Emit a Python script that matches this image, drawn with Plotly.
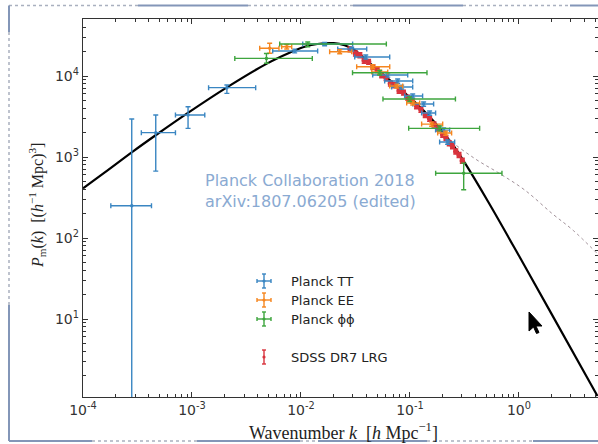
import plotly.graph_objects as go

# ---------------- data ----------------
# Linear-theory matter power spectrum P_m(k)
k_lin = [1.0e-4, 1.585e-4, 2.88e-4, 4.71e-4, 9.18e-4, 2.09e-3, 4.82e-3, 7.94e-3,
         0.01042, 0.01413, 0.01995, 0.02512, 0.03112, 0.04266, 0.06516, 0.1067,
         0.1626, 0.2477, 0.3177, 0.52, 1.0, 1.995, 5.25]
p_lin = [411, 646, 1175, 1884, 3508, 7244, 14130, 19500,
         22650, 24830, 25410, 23990, 20890, 14450, 8910, 5010,
         2820, 1413, 851, 282, 60.3, 11.5, 1.12]

# Nonlinear spectrum (dotted)
k_nl = [0.1, 0.1585, 0.2168, 0.3917, 0.665, 1.127, 2.037, 3.105, 5.164]
p_nl = [5200, 2950, 1760, 960, 625, 392, 198, 126, 65.3]

# Planck TT
tt_k = [2.8e-4, 4.65e-4, 9.2e-4, 2.09e-3, 0.00875, 0.01648, 0.02917, 0.03926,
        0.06252, 0.0771, 0.0839, 0.1059, 0.1334, 0.1514, 0.2037, 0.2213]
tt_k_lo = [1.8e-4, 3.43e-4, 7.05e-4, 1.42e-3, 0.0055, 0.01038, 0.02173, 0.03112,
           0.0455, 0.0586, 0.0679, 0.0893, 0.1059, 0.1279, 0.1718, 0.1871]
tt_k_hi = [4.25e-4, 7.05e-4, 1.31e-3, 3.84e-3, 0.01422, 0.02978, 0.04009, 0.06516,
           0.0953, 0.1059, 0.1059, 0.1306, 0.1648, 0.1718, 0.2312, 0.2570]
tt_p = [250, 2000, 3300, 7180, 20400, 24800, 21540, 17180,
        10280, 8670, 7310, 5660, 4510, 3490, 2150, 1530]
tt_p_lo = [0.01, 670, 2260, 6110, 19300, 23600, 20400, 16200,
           9700, 8150, 6900, 5320, 4240, 3280, 2020, 1440]
tt_p_hi = [2950, 3300, 4180, 7740, 21500, 26000, 22700, 18200,
           10900, 9200, 7720, 6000, 4780, 3700, 2280, 1620]

# Planck EE
ee_k = [0.00516, 0.00740, 0.02265, 0.0455, 0.0527, 0.0755, 0.1059, 0.158, 0.2123]
ee_k_lo = [0.00418, 0.00665, 0.01832, 0.03243, 0.0446, 0.0652, 0.0933, 0.1279, 0.1795]
ee_k_hi = [0.00628, 0.00822, 0.02917, 0.0652, 0.0625, 0.0857, 0.1227, 0.1995, 0.2410]
ee_p = [21980, 23010, 19950, 13030, 11200, 7530, 4640, 2550, 1977]
ee_p_lo = [19070, 21600, 18800, 12300, 10600, 7100, 4380, 2400, 1860]
ee_p_hi = [25340, 24500, 21100, 13800, 11800, 7950, 4900, 2700, 2090]

# Planck lensing (phi-phi)
pp_k = [0.00482, 0.01153, 0.0527, 0.0993, 0.187, 0.311]
pp_k_lo = [0.00247, 0.00638, 0.0297, 0.0565, 0.0973, 0.172]
pp_k_hi = [0.0127, 0.0607, 0.1432, 0.2612, 0.4355, 0.698]
pp_p = [16500, 24840, 10990, 5200, 2260, 630]
pp_p_lo = [14400, 23000, 10300, 4850, 2100, 395]
pp_p_hi = [19000, 26300, 11700, 5550, 2420, 840]

# SDSS DR7 LRG
sdss_k = [0.0282, 0.0316, 0.0347, 0.0380, 0.0417, 0.0457, 0.0501, 0.0550, 0.0603,
          0.0661, 0.0724, 0.0794, 0.0871, 0.0955, 0.1047, 0.1148, 0.1259, 0.1380,
          0.1514, 0.1660, 0.1820, 0.1995, 0.2138, 0.2291, 0.2455, 0.2630, 0.2818, 0.3020]
sdss_p = [21400, 19000, 18100, 15500, 15000, 12900, 11900, 10200, 9500,
          8100, 7700, 6600, 6250, 5400, 4950, 4250, 3850, 3300,
          2980, 2520, 2260, 1880, 1720, 1480, 1360, 1170, 1060, 900]
sdss_err = [1500, 1330, 1270, 1080, 1050, 900, 830, 710, 670,
            570, 540, 460, 440, 380, 350, 300, 270, 230,
            210, 180, 160, 130, 120, 105, 95, 82, 75, 63]

# Axis ticks
x_ticks = [1e-4, 1e-3, 1e-2, 1e-1, 1.0]
x_tick_text = ["10<sup>-4</sup>", "10<sup>-3</sup>", "10<sup>-2</sup>",
               "10<sup>-1</sup>", "10<sup>0</sup>"]
y_ticks = [1e1, 1e2, 1e3, 1e4]
y_tick_text = ["10<sup>1</sup>", "10<sup>2</sup>", "10<sup>3</sup>", "10<sup>4</sup>"]

legend_labels = ["Planck TT", "Planck EE", "Planck \u03d5\u03d5", "SDSS DR7 LRG"]
credit_lines = ["Planck Collaboration 2018", "arXiv:1807.06205 (edited)"]

BLUE, ORANGE, GREEN, RED = "#3a86c2", "#f5861f", "#3ea53e", "#d8333d"

# ---------------- geometry helpers ----------------
W, H = 598, 444
ML, MR, MT, MB = 83, 0, 19, 47
PW, PH = W - ML - MR, H - MT - MB


def px(x):
    return (x - ML) / PW


def py(y):
    return (MT + PH - y) / PH


def bounds(c, lo, hi):
    return [h - v for v, h in zip(c, hi)], [v - l for v, l in zip(c, lo)]


fig = go.Figure()

fig.add_trace(go.Scatter(x=k_nl, y=p_nl, mode="lines", line_shape="spline",
                         line=dict(color="#a09098", width=1, dash="dot"),
                         showlegend=False, hoverinfo="skip"))
fig.add_trace(go.Scatter(x=k_lin, y=p_lin, mode="lines", line_shape="spline",
                         line=dict(color="black", width=2.2),
                         showlegend=False, hoverinfo="skip"))

fig.add_trace(go.Scatter(
    x=sdss_k, y=sdss_p, mode="markers",
    marker=dict(color=RED, size=5.5),
    error_y=dict(type="data", array=sdss_err, color=RED, thickness=1.5, width=2.5),
    showlegend=False))


def planck(k, klo, khi, p, plo, phi, color):
    kp, km = bounds(k, klo, khi)
    pp, pm = bounds(p, plo, phi)
    fig.add_trace(go.Scatter(
        x=k, y=p, mode="markers",
        marker=dict(color=color, size=3.5),
        error_x=dict(type="data", symmetric=False, array=kp, arrayminus=km,
                     color=color, thickness=1.4, width=2.5),
        error_y=dict(type="data", symmetric=False, array=pp, arrayminus=pm,
                     color=color, thickness=1.4, width=2.5),
        showlegend=False))


planck(tt_k, tt_k_lo, tt_k_hi, tt_p, tt_p_lo, tt_p_hi, BLUE)
planck(ee_k, ee_k_lo, ee_k_hi, ee_p, ee_p_lo, ee_p_hi, ORANGE)
planck(pp_k, pp_k_lo, pp_k_hi, pp_p, pp_p_lo, pp_p_hi, GREEN)

shapes = []
annotations = []

# ---- legend keys drawn as small error-bar glyphs ----
key_x = 264
key_rows = [281, 300, 319, 357]
key_colors = [BLUE, ORANGE, GREEN, RED]


def seg(x0, y0, x1, y1, color, width=1.4, dash=None):
    ln = dict(color=color, width=width)
    if dash:
        ln["dash"] = dash
    shapes.append(dict(type="line", xref="paper", yref="paper",
                       x0=px(x0), y0=py(y0), x1=px(x1), y1=py(y1), line=ln))


for i, (yy, col, lab) in enumerate(zip(key_rows, key_colors, legend_labels)):
    if i < 3:
        seg(key_x - 7, yy, key_x + 7, yy, col)
        seg(key_x - 7, yy - 2, key_x - 7, yy + 2, col)
        seg(key_x + 7, yy - 2, key_x + 7, yy + 2, col)
    seg(key_x, yy - 7, key_x, yy + 7, col)
    seg(key_x - 2, yy - 7, key_x + 2, yy - 7, col)
    seg(key_x - 2, yy + 7, key_x + 2, yy + 7, col)
    shapes.append(dict(type="circle", xref="paper", yref="paper",
                       x0=px(key_x - 1.6), x1=px(key_x + 1.6),
                       y0=py(yy + 1.6), y1=py(yy - 1.6),
                       fillcolor=col, line=dict(width=0)))
    annotations.append(dict(xref="paper", yref="paper", x=px(289), y=py(yy),
                            xanchor="left", yanchor="middle", showarrow=False,
                            text=lab, font=dict(family="DejaVu Sans", size=13,
                                                color="#222")))

# ---- credit text ----
for yy, t in zip([180, 201], credit_lines):
    annotations.append(dict(xref="paper", yref="paper", x=px(310), y=py(yy),
                            xanchor="center", yanchor="middle", showarrow=False,
                            text=t, font=dict(family="DejaVu Sans", size=16,
                                              color="#8aaad2")))

# ---- axis titles ----
annotations.append(dict(
    xref="paper", yref="paper", x=px(343), y=py(431), xanchor="center",
    yanchor="middle", showarrow=False,
    text="Wavenumber <i>k</i>  [<i>h</i> Mpc<sup>\u22121</sup>]",
    font=dict(family="Liberation Serif", size=18, color="#222")))
annotations.append(dict(
    xref="paper", yref="paper", x=px(37), y=py(206), xanchor="center",
    yanchor="middle", showarrow=False, textangle=-90,
    text="<i>P</i><sub>m</sub>(<i>k</i>)  [(<i>h</i><sup>\u22121</sup> Mpc)<sup>3</sup>]",
    font=dict(family="Liberation Serif", size=16, color="#222")))

# ---- slide frame ----
FR = "#8396b8"
DOT = "#a9b0bf"
for a, b, d in [(9, 138, True), (138, 248, False), (248, 353, True),
                (353, 463, False), (463, 570, True), (570, 600, False)]:
    seg(a, 5.5, b, 5.5, DOT if d else FR, width=2 if not d else 1.5,
        dash="dot" if d else None)
for a, b, d in [(5.5, 32, False), (32, 305, True), (305, 441, False)]:
    seg(9, a, 9, b, DOT if d else FR, width=2 if not d else 1.5,
        dash="dot" if d else None)
for a, b, d in [(9, 92, False), (92, 197, True), (197, 300, False),
                (300, 318, True), (318, 427, False), (427, 533, True),
                (533, 600, False)]:
    seg(a, 441, b, 441, DOT if d else FR, width=2 if not d else 1.5,
        dash="dot" if d else None)

# ---- mouse pointer glyph ----
tip = (529, 312)
pointer = [(0, 0), (0, 19), (4.5, 15), (7.5, 21.5), (10, 20.5), (7, 14), (13, 14)]
path = "M " + " L ".join(f"{px(tip[0] + dx):.5f},{py(tip[1] + dy):.5f}"
                         for dx, dy in pointer) + " Z"
shapes.append(dict(type="path", xref="paper", yref="paper", path=path,
                   fillcolor="black", line=dict(color="black", width=1)))

minor_x = [m * 10.0 ** e for e in range(-4, 1) for m in range(2, 10)]
minor_y = [m * 10.0 ** e for e in range(0, 5) for m in range(2, 10)]

axis_common = dict(
    type="log", showgrid=False, zeroline=False, showline=True,
    linecolor="#333", linewidth=1.4, mirror="allticks",
    ticks="inside", ticklen=5, tickwidth=1, tickcolor="#333",
    tickmode="array",
    tickfont=dict(family="DejaVu Sans", size=14, color="#333"),
)

fig.update_xaxes(range=[-4.0, 0.725], tickvals=x_ticks, ticktext=x_tick_text,
                 minor=dict(ticks="inside", ticklen=2.5, tickcolor="#333",
                            tickmode="array", tickvals=minor_x, showgrid=False),
                 **axis_common)
fig.update_yaxes(range=[0.037, 4.704], tickvals=y_ticks, ticktext=y_tick_text,
                 minor=dict(ticks="inside", ticklen=2.5, tickcolor="#333",
                            tickmode="array", tickvals=minor_y, showgrid=False),
                 **axis_common)

fig.update_layout(
    width=W, height=H,
    margin=dict(l=ML, r=MR, t=MT, b=MB),
    paper_bgcolor="white", plot_bgcolor="white",
    showlegend=False,
    shapes=shapes, annotations=annotations,
)

fig.write_html("out.html")
